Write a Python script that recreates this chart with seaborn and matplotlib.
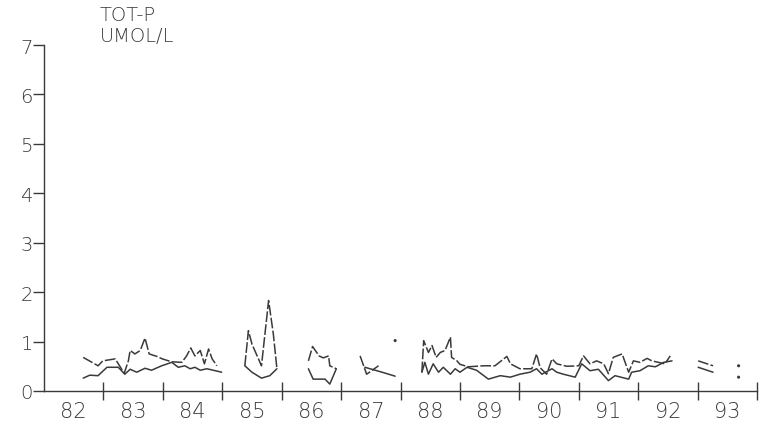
import numpy as np
import pandas as pd
import matplotlib
matplotlib.use("Agg")
import matplotlib.pyplot as plt
import seaborn as sns

# ---- data (decimal year, value in umol/l); NaN marks a gap in the record ----
upper_years = [1982.66, 1982.91, 1982.99, 1983.20, 1983.24, 1983.35, 1983.42, 1983.45,
               1983.53, 1983.62, 1983.70, 1983.77, 1983.90, 1983.99, 1984.15, 1984.32,
               1984.40, 1984.47, 1984.54, 1984.63, 1984.70, 1984.77, 1984.83, 1984.91,
               np.nan,
               1985.38, 1985.44, 1985.50, 1985.66, 1985.78, 1985.86, 1985.92,
               np.nan,
               1986.45, 1986.52, 1986.63, 1986.70, 1986.79, 1986.81, 1986.92,
               np.nan,
               1987.32, 1987.43, 1987.63,
               np.nan,
               1988.36, 1988.39, 1988.47, 1988.53, 1988.60, 1988.67, 1988.75, 1988.84,
               1988.86, 1988.95, 1989.00, 1989.14, 1989.40, 1989.59, 1989.79, 1989.85,
               1990.01, 1990.21, 1990.29, 1990.35, 1990.46, 1990.55, 1990.63, 1990.80,
               1991.00, 1991.08, 1991.19, 1991.30, 1991.42, 1991.50, 1991.58, 1991.73,
               1991.81, 1991.84, 1991.92, 1992.03, 1992.15, 1992.23, 1992.34, 1992.45,
               1992.54,
               np.nan,
               1993.01, 1993.26]
upper_vals = [0.68, 0.51, 0.61, 0.65, 0.57, 0.36, 0.61, 0.82,
              0.75, 0.82, 1.07, 0.75, 0.70, 0.65, 0.59, 0.58,
              0.71, 0.87, 0.71, 0.82, 0.55, 0.85, 0.65, 0.51,
              np.nan,
              0.51, 1.22, 0.95, 0.51, 1.83, 1.15, 0.45,
              np.nan,
              0.61, 0.90, 0.71, 0.67, 0.71, 0.51, 0.45,
              np.nan,
              0.71, 0.34, 0.51,
              np.nan,
              0.38, 1.02, 0.78, 0.92, 0.68, 0.78, 0.82, 1.09,
              0.68, 0.61, 0.54, 0.49, 0.51, 0.51, 0.70, 0.55,
              0.45, 0.45, 0.75, 0.47, 0.34, 0.65, 0.55, 0.50,
              0.51, 0.71, 0.55, 0.61, 0.55, 0.35, 0.68, 0.75,
              0.48, 0.38, 0.61, 0.58, 0.66, 0.61, 0.58, 0.55,
              0.71,
              np.nan,
              0.61, 0.51]

lower_years = [1982.66, 1982.77, 1982.91, 1983.06, 1983.25, 1983.36, 1983.45, 1983.56,
               1983.70, 1983.81, 1983.98, 1984.15, 1984.26, 1984.37, 1984.46, 1984.54,
               1984.63, 1984.74, 1984.85, 1984.99,
               np.nan,
               1985.38, 1985.50, 1985.66, 1985.80, 1985.92,
               np.nan,
               1986.45, 1986.53, 1986.73, 1986.81, 1986.92,
               np.nan,
               1987.40, 1987.69, 1987.91,
               np.nan,
               1988.36, 1988.41, 1988.47, 1988.55, 1988.64, 1988.72, 1988.84, 1988.92,
               1989.00, 1989.12, 1989.28, 1989.48, 1989.68, 1989.85, 1990.01, 1990.18,
               1990.29, 1990.38, 1990.55, 1990.63, 1990.74, 1990.94, 1991.05, 1991.19,
               1991.33, 1991.50, 1991.61, 1991.84, 1991.89, 1992.03, 1992.17, 1992.29,
               1992.43, 1992.57,
               np.nan,
               1993.01, 1993.26]
lower_vals = [0.26, 0.32, 0.31, 0.48, 0.48, 0.34, 0.44, 0.38,
              0.46, 0.42, 0.51, 0.58, 0.48, 0.51, 0.45, 0.48,
              0.42, 0.45, 0.42, 0.38,
              np.nan,
              0.51, 0.38, 0.26, 0.31, 0.45,
              np.nan,
              0.45, 0.24, 0.24, 0.14, 0.45,
              np.nan,
              0.48, 0.38, 0.30,
              np.nan,
              0.38, 0.58, 0.34, 0.55, 0.38, 0.48, 0.34, 0.45,
              0.38, 0.48, 0.42, 0.24, 0.31, 0.28, 0.34, 0.38,
              0.45, 0.34, 0.45, 0.38, 0.34, 0.28, 0.55, 0.41,
              0.44, 0.21, 0.31, 0.24, 0.38, 0.41, 0.51, 0.49,
              0.58, 0.61,
              np.nan,
              0.48, 0.38]

single_years = [1987.91, 1993.69, 1993.69]
single_vals = [1.02, 0.51, 0.28]

year_labels = ["82", "83", "84", "85", "86", "87", "88", "89", "90", "91", "92", "93"]
y_ticks = [0, 1, 2, 3, 4, 5, 6, 7]


def to_frame(xs, ys):
    df = pd.DataFrame({"year": xs, "value": ys})
    df["segment"] = df["year"].isna().cumsum()
    return df.dropna()


up = to_frame(upper_years, upper_vals)
lo = to_frame(lower_years, lower_vals)
pts = pd.DataFrame({"year": single_years, "value": single_vals})

sns.set_theme(style="white")
plt.rcParams["font.family"] = ["DejaVu Sans"]

ink = "#3a3a3a"
fig = plt.figure(figsize=(7.66, 4.27), dpi=100)
ax = fig.add_axes([44 / 766, 35 / 427, (757 - 44) / 766, (392 - 46) / 427])

sns.lineplot(data=lo, x="year", y="value", units="segment", estimator=None,
             color=ink, lw=1.1, ax=ax, sort=False)
n_lo = len(ax.lines)
sns.lineplot(data=up, x="year", y="value", units="segment", estimator=None,
             color=ink, lw=1.1, ax=ax, sort=False)
for line in ax.lines[n_lo:]:
    line.set_dashes([7, 1.5])
sns.scatterplot(data=pts, x="year", y="value", color=ink, s=5, ax=ax,
                edgecolor="none")

ax.set_xlim(1982, 1994)
ax.set_ylim(0, 7)
for s in ["top", "right"]:
    ax.spines[s].set_visible(False)
for s in ["left", "bottom"]:
    ax.spines[s].set_color(ink)
    ax.spines[s].set_linewidth(1.0)

ax.set_xticks(np.arange(1983, 1995))
ax.set_xticklabels([])
ax.set_xticks(np.arange(1982.5, 1994.0, 1.0), minor=True)
ax.set_xticklabels(year_labels, minor=True, fontweight="light")
ax.tick_params(axis="x", which="major", direction="inout", length=13,
               width=1.0, color=ink, bottom=True)
ax.tick_params(axis="x", which="minor", length=0, pad=7, labelsize=15,
               labelcolor=ink, bottom=True)
ax.set_yticks(y_ticks)
ax.set_yticklabels([str(v) for v in y_ticks], fontweight="light")
ax.tick_params(axis="y", direction="out", length=8, width=1.0, color=ink,
               labelsize=14, labelcolor=ink, pad=0, left=True)
ax.set_xlabel("")
ax.set_ylabel("")
ax.grid(False)

fig.text(100 / 766, 1 - 6 / 427, "TOT-P\nUMOL/L", ha="left", va="top",
         fontsize=14, color=ink, linespacing=1.15, fontweight="light")

fig.savefig("out.png", dpi=100)
